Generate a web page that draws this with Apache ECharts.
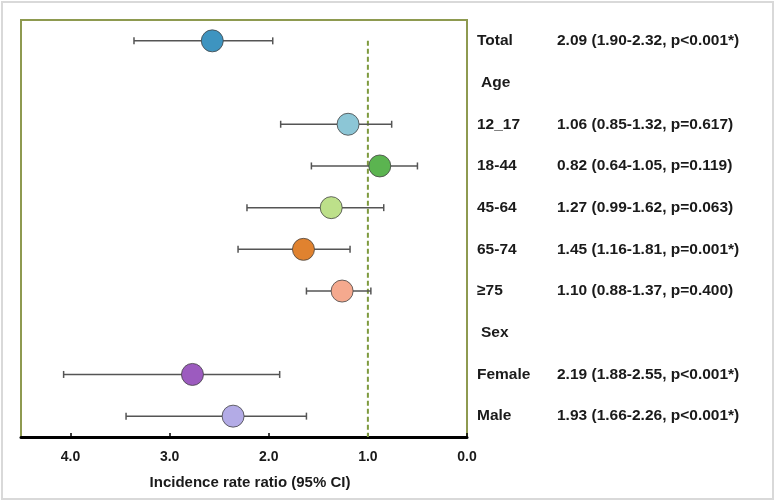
<!DOCTYPE html>
<html>
<head>
<meta charset="utf-8">
<script src="https://cdn.jsdelivr.net/npm/echarts@6/dist/echarts.min.js"></script>
<style>
html,body{margin:0;padding:0;background:#fff;}
#c{width:776px;height:503px;}
</style>
</head>
<body>
<div id="c"></div>
<script>
var categories = ['Total','Age','12_17','18-44','45-64','65-74','\u226575','Sex','Female','Male'];
var estimates  = [2.57, null, 1.20, 0.88, 1.37, 1.65, 1.26, null, 2.77, 2.36];
var lowerCI    = [1.96, null, 0.76, 0.50, 0.84, 1.18, 0.97, null, 1.89, 1.62];
var upperCI    = [3.36, null, 1.88, 1.57, 2.22, 2.31, 1.62, null, 4.07, 3.44];
var statLabels = ['2.09 (1.90-2.32, p<0.001*)', '', '1.06 (0.85-1.32, p=0.617)', '0.82 (0.64-1.05, p=0.119)',
                  '1.27 (0.99-1.62, p=0.063)', '1.45 (1.16-1.81, p=0.001*)', '1.10 (0.88-1.37, p=0.400)', '',
                  '2.19 (1.88-2.55, p<0.001*)', '1.93 (1.66-2.26, p<0.001*)'];
var pointColors = ['#3E94C0', null, '#8CC6D6', '#5BB450', '#BDE08A', '#E0822F', '#F5A98E', null, '#9C5BBF', '#B3ABE6'];
var xTicks = [0, 1, 2, 3, 4];
var refValue = 1.0;

var scatterData = [], errData = [];
categories.forEach(function(c, i){
  if (estimates[i] != null) {
    scatterData.push({value: [estimates[i], i], itemStyle: {color: pointColors[i]}});
    errData.push([lowerCI[i], upperCI[i], i]);
  }
});

var chart = echarts.init(document.getElementById('c'), null, {renderer: 'canvas'});
var olive = '#8E9A50';
var ff = 'Liberation Sans, Arial';
chart.setOption({
  animation: false,
  backgroundColor: '#fff',
  graphic: [{type: 'rect', shape: {x: 2, y: 2, width: 771, height: 497}, style: {fill: 'none', stroke: '#D9D9D9', lineWidth: 2}, z: -1}],
  grid: {left: 21, right: 309, top: 20, bottom: 66, show: true, borderColor: olive, borderWidth: 2, backgroundColor: '#fff'},
  xAxis: {
    type: 'value', min: 0, max: 4.5, interval: 1, inverse: true,
    splitLine: {show: false},
    axisLine: {show: true, onZero: false, lineStyle: {color: '#000', width: 3}},
    axisTick: {show: true, inside: true, length: 4, lineStyle: {color: '#000', width: 1.5}},
    axisLabel: {
      margin: 13, color: '#1a1a1a', fontFamily: ff, fontWeight: 'bold', fontSize: 14,
      showMaxLabel: false,
      formatter: function(v){ return xTicks.indexOf(v) >= 0 ? v.toFixed(1) : ''; }
    },
    name: 'Incidence rate ratio (95% CI)', nameLocation: 'middle', nameGap: 38,
    nameTextStyle: {color: '#1a1a1a', fontFamily: ff, fontWeight: 'bold', fontSize: 15, padding: [0, 0, 0, 12]}
  },
  yAxis: {
    type: 'category', data: categories, inverse: true, position: 'right',
    axisLine: {show: false}, axisTick: {show: false}, splitLine: {show: false},
    axisLabel: {
      margin: 10, align: 'left',
      formatter: function(v, i){
        var s = statLabels[i];
        if (!s) return '{h|' + v + '}';
        return '{a|' + v + '}{b|' + s + '}';
      },
      rich: {
        a: {width: 80, color: '#1a1a1a', fontFamily: ff, fontWeight: 'bold', fontSize: 15.5},
        h: {padding: [0, 0, 0, 4], color: '#1a1a1a', fontFamily: ff, fontWeight: 'bold', fontSize: 15.5},
        b: {color: '#1a1a1a', fontFamily: ff, fontWeight: 'bold', fontSize: 15.5}
      }
    }
  },
  series: [
    {
      type: 'custom', z: 1,
      data: [[refValue, 0]],
      renderItem: function(params, api){
        var p = api.coord([api.value(0), api.value(1)]);
        var bottom = params.coordSys.y + params.coordSys.height;
        return {type: 'line', shape: {x1: p[0], y1: p[1], x2: p[0], y2: bottom},
          style: {stroke: '#7E9A3E', lineWidth: 2, lineDash: [5, 3]}};
      }
    },
    {
      type: 'custom', z: 2,
      data: errData,
      encode: {x: [0, 1], y: 2},
      renderItem: function(params, api){
        var a = api.coord([api.value(0), api.value(2)]);
        var b = api.coord([api.value(1), api.value(2)]);
        var st = {stroke: '#555', lineWidth: 1.5};
        var h = 3.5;
        return {type: 'group', children: [
          {type: 'line', shape: {x1: a[0], y1: a[1], x2: b[0], y2: b[1]}, style: st},
          {type: 'line', shape: {x1: a[0], y1: a[1]-h, x2: a[0], y2: a[1]+h}, style: st},
          {type: 'line', shape: {x1: b[0], y1: b[1]-h, x2: b[0], y2: b[1]+h}, style: st}
        ]};
      }
    },
    {
      type: 'scatter', z: 3, symbol: 'circle', symbolSize: 22,
      itemStyle: {borderColor: '#444', borderWidth: 0.8, opacity: 1},
      data: scatterData
    }
  ]
});
</script>
</body>
</html>
